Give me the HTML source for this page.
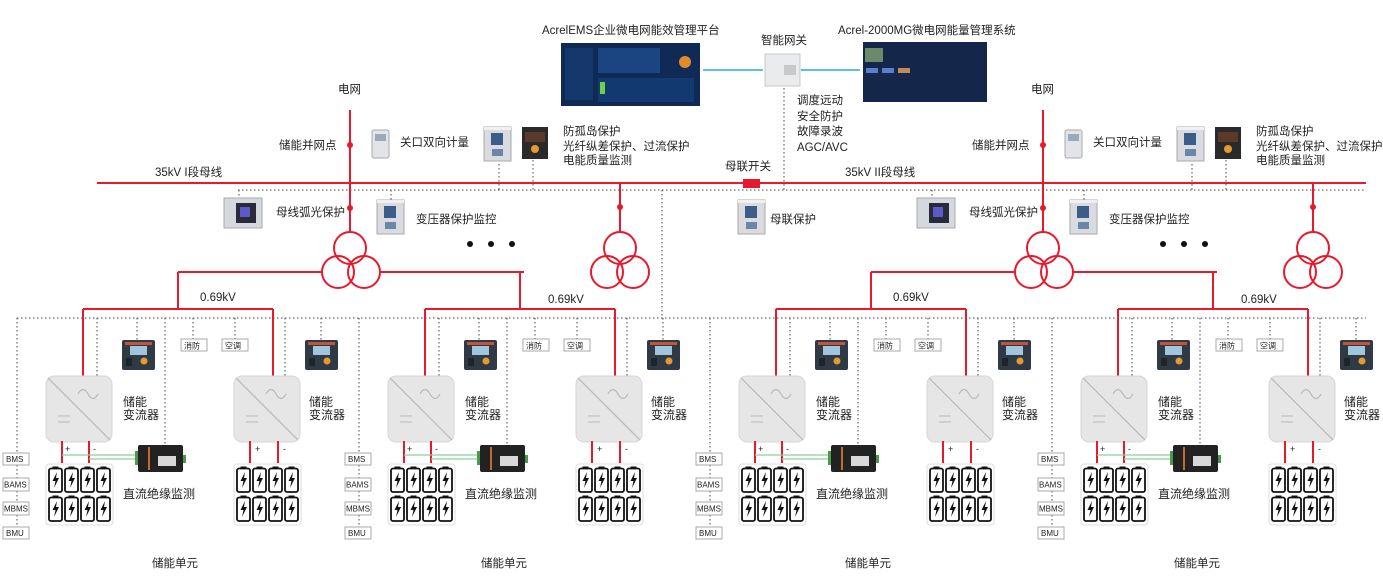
<!DOCTYPE html>
<html><head><meta charset="utf-8"><style>
html,body{margin:0;padding:0;background:#fff;}
svg{display:block;font-family:"Liberation Sans","Noto Sans CJK SC",sans-serif;}
text{font-size:11.5px;fill:#222;}
</style></head><body>
<svg width="1383" height="584" viewBox="0 0 1383 584" xmlns="http://www.w3.org/2000/svg">
<defs>
<symbol id="bat" viewBox="0 0 15 27" width="15" height="27">
<rect x="1" y="2.5" width="13" height="23.5" rx="2" fill="#fff" stroke="#111" stroke-width="1.8"/>
<rect x="4.5" y="0.5" width="6" height="2.5" fill="#111"/>
<polygon points="9,6 4.5,15 7.5,15 6,22 11,12 8,12" fill="#111"/>
</symbol>
<g id="pack">
<rect x="46" y="464" width="67" height="61" rx="3" fill="#fff" stroke="#ddd"/>
<use href="#bat" x="48" y="466"/><use href="#bat" x="64" y="466"/><use href="#bat" x="80" y="466"/><use href="#bat" x="96" y="466"/>
<use href="#bat" x="48" y="495"/><use href="#bat" x="64" y="495"/><use href="#bat" x="80" y="495"/><use href="#bat" x="96" y="495"/>
</g>
<g id="inv">
<rect x="0" y="0" width="66" height="66" rx="8" fill="#e6e6e6" stroke="#d6d6d6"/>
<line x1="2" y1="2" x2="64" y2="64" stroke="#b8b8b8" stroke-width="1.2"/>
<path d="M32 18 q5 -9 10 0 q5 9 10 0" fill="none" stroke="#b8b8b8" stroke-width="1.2"/>
<line x1="12" y1="40" x2="24" y2="40" stroke="#b8b8b8"/><line x1="12" y1="46" x2="24" y2="46" stroke="#b8b8b8"/>
</g>
<g id="meter">
<rect x="0" y="0" width="33" height="30" rx="2" fill="#2f3a45"/>
<rect x="3" y="2" width="27" height="3" fill="#c0553a"/>
<rect x="8" y="6" width="17" height="9" fill="#9fc6dc"/>
<circle cx="22" cy="21" r="3.5" fill="#e69a2e"/>
<rect x="4" y="18" width="6" height="8" fill="#1d252c"/>
</g>
<g id="prot">
<rect x="0" y="0" width="27" height="34" fill="#d9dbe0" stroke="#aaa"/>
<rect x="0" y="0" width="27" height="3" fill="#f0f0f0"/>
<rect x="7" y="6" width="12" height="12" fill="#3a5d8a"/>
<rect x="8" y="22" width="11" height="7" fill="#6a86a8"/>
</g>
<g id="dcm">
<rect x="0" y="0" width="45" height="27" rx="2" fill="#222"/>
<rect x="10" y="2" width="2" height="23" fill="#c56a2a"/>
<rect x="20" y="11" width="18" height="10" fill="#d8d8d8"/>
<rect x="-3" y="6" width="3" height="14" fill="#4a9a4a"/>
<rect x="45" y="10" width="3" height="8" fill="#4a9a4a"/>
</g>
<g id="unit">
<path d="M178 272 V309 M83 309 H273 M83 309 V376 M273 309 V376" stroke="#e8192c" stroke-width="2" fill="none"/>
<g stroke="#444" stroke-width="1" stroke-dasharray="1.5,2.5" fill="none">
<path d="M17 318 V452 M17 465 V478 M17 491 V502 M17 515 V527 M97 318 V376 M137 318 V340 M165 318 V444 M193 318 V340 M235 318 V340 M285 318 V376 M321 318 V340"/>
</g>
<use href="#inv" x="46" y="376"/>
<use href="#inv" x="234" y="376"/>
<use href="#meter" x="122" y="340"/>
<use href="#meter" x="305" y="340"/>
<rect x="181" y="339" width="26" height="12" fill="#fff" stroke="#aaa"/><text x="184" y="348.5" style="font-size:8px">消防</text>
<rect x="222" y="339" width="26" height="12" fill="#fff" stroke="#aaa"/><text x="225" y="348.5" style="font-size:8px">空调</text>
<text x="123" y="406" style="font-size:12px">储能</text><text x="123" y="419" style="font-size:12px">变流器</text>
<text x="309" y="406" style="font-size:12px">储能</text><text x="309" y="419" style="font-size:12px">变流器</text>
<path d="M62 441 V463 M89 441 V463 M250 441 V463 M278 441 V463" stroke="#e8192c" stroke-width="2"/>
<path d="M62 455 H138 M89 459 H138" stroke="#8ccf9a" stroke-width="1.2"/>
<text x="65" y="452" style="font-size:9px">+</text><text x="93" y="452" style="font-size:9px">-</text>
<text x="255" y="452" style="font-size:9px">+</text><text x="283" y="452" style="font-size:9px">-</text>
<use href="#pack"/>
<use href="#pack" x="188"/>
<use href="#dcm" x="138" y="445"/>
<text x="123" y="498" style="font-size:12px">直流绝缘监测</text>
<rect x="3" y="453" width="26" height="12" fill="#fff" stroke="#aaa"/><text x="6" y="462" style="font-size:8px">BMS</text>
<rect x="3" y="478" width="26" height="13" fill="#fff" stroke="#aaa"/><text x="4" y="487.5" style="font-size:8px">BAMS</text>
<rect x="3" y="502" width="26" height="13" fill="#fff" stroke="#aaa"/><text x="4" y="511.5" style="font-size:8px">MBMS</text>
<rect x="3" y="527" width="26" height="12" fill="#fff" stroke="#aaa"/><text x="6" y="536" style="font-size:8px">BMU</text>
</g>
<g id="half">
<path d="M350 110 V232 M620 183 V232 M178 272 H322 M380 272 H524" stroke="#e8192c" stroke-width="2" fill="none"/>
<circle cx="350" cy="145" r="3" fill="#e8192c"/><circle cx="350" cy="208" r="3" fill="#e8192c"/><circle cx="620" cy="207" r="3" fill="#e8192c"/>
<g fill="none" stroke="#e8192c" stroke-width="2">
<circle cx="350" cy="248" r="16"/><circle cx="338" cy="272" r="16"/><circle cx="364" cy="272" r="16"/>
<circle cx="620" cy="248" r="16"/><circle cx="607" cy="272" r="16"/><circle cx="633" cy="272" r="16"/>
</g>
<g stroke="#444" stroke-dasharray="1.5,2.5" fill="none"><path d="M499 160 V190 M533 160 V190 M239 190 V198 M391 190 V200"/></g>
<rect x="372" y="130" width="17" height="28" rx="2" fill="#e2e4e8" stroke="#aaa"/><rect x="375" y="134" width="11" height="7" fill="#9ab"/>
<use href="#prot" x="484" y="127"/>
<rect x="522" y="127" width="26" height="32" fill="#2a2a2a"/><rect x="525" y="132" width="20" height="10" fill="#5a3a2a"/><circle cx="535" cy="149" r="4" fill="#e79a2a"/>
<rect x="224" y="198" width="38" height="30" fill="#d5d8dc" stroke="#aaa"/><rect x="236" y="203" width="20" height="20" fill="#2a2a3a"/><rect x="240" y="207" width="10" height="10" fill="#5a5ac8"/>
<use href="#prot" x="377" y="200"/>
<circle cx="470" cy="244" r="3" fill="#111"/><circle cx="491" cy="244" r="3" fill="#111"/><circle cx="512" cy="244" r="3" fill="#111"/>
<text x="338" y="93">电网</text>
<text x="279" y="149">储能并网点</text>
<text x="400" y="146">关口双向计量</text>
<text x="563" y="135">防孤岛保护</text>
<text x="563" y="150">光纤纵差保护、过流保护</text>
<text x="563" y="164">电能质量监测</text>
<text x="276" y="216">母线弧光保护</text>
<text x="416" y="223">变压器保护监控</text>
<text x="200" y="301">0.69kV</text>
<text x="548" y="303">0.69kV</text>
<text x="152" y="567">储能单元</text>
<text x="481" y="567">储能单元</text>
<use href="#unit"/>
<use href="#unit" x="342"/>
</g>
</defs>

<line x1="97" y1="183" x2="1366" y2="183" stroke="#e8192c" stroke-width="2"/>
<g stroke="#444" stroke-dasharray="1.5,2.5" fill="none">
<path d="M238 190 H1366 M17 318 H1366 M662 190 V318 M784 88 V190"/>
</g>
<rect x="743" y="179" width="17" height="9" fill="#e8192c"/>
<text x="155" y="176">35kV I段母线</text>
<text x="845" y="176">35kV II段母线</text>
<text x="725" y="170">母联开关</text>

<use href="#half"/>
<use href="#half" x="693"/>

<use href="#prot" x="738" y="200"/>
<text x="770" y="223">母联保护</text>

<text x="542" y="34" style="font-size:11.5px">AcrelEMS企业微电网能效管理平台</text>
<rect x="561" y="43" width="139" height="63" fill="#0f2a55"/>
<rect x="565" y="48" width="28" height="52" fill="#14386b"/>
<rect x="598" y="48" width="62" height="25" fill="#1a4580"/>
<circle cx="685" cy="62" r="6" fill="#e08a2a"/>
<rect x="598" y="78" width="96" height="24" fill="#123a70"/>
<rect x="600" y="82" width="5" height="12" fill="#6cd04a"/>
<line x1="703" y1="70" x2="763" y2="70" stroke="#2aa8e0" stroke-width="1.5"/>
<line x1="801" y1="70" x2="860" y2="70" stroke="#2aa8e0" stroke-width="1.5"/>
<text x="761" y="44">智能网关</text>
<rect x="765" y="54" width="35" height="32" fill="#e9ebec" stroke="#c8c8c8"/>
<rect x="784" y="65" width="12" height="10" fill="#c9c9c9"/>
<text x="838" y="34" style="font-size:11.5px">Acrel-2000MG微电网能量管理系统</text>
<rect x="863" y="42" width="124" height="60" fill="#14264a"/>
<rect x="865" y="48" width="18" height="14" fill="#6a8a6a"/>
<rect x="866" y="68" width="12" height="5" fill="#5c7ed0"/><rect x="882" y="68" width="12" height="5" fill="#5c7ed0"/><rect x="898" y="68" width="12" height="5" fill="#c58a5a"/>
<text x="797" y="104">调度远动</text>
<text x="797" y="120">安全防护</text>
<text x="797" y="135">故障录波</text>
<text x="797" y="151">AGC/AVC</text>
</svg>
</body></html>
